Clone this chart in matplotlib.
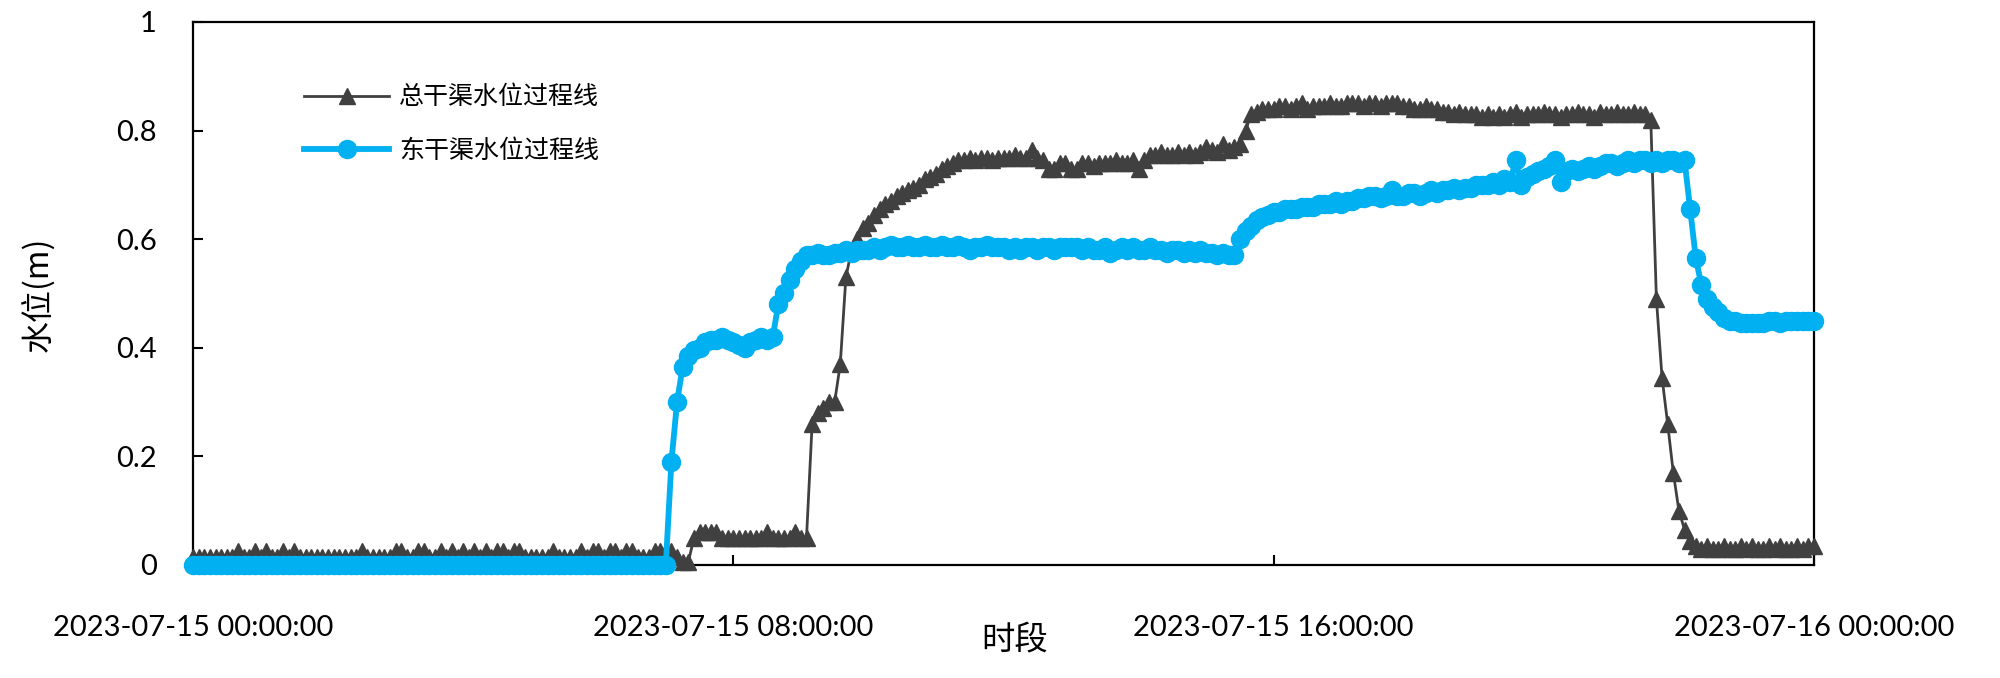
import pandas as pd
import matplotlib
matplotlib.use("Agg")
import matplotlib.pyplot as plt
import matplotlib.dates as mdates
from matplotlib.ticker import FuncFormatter

# 5-minute samples, 2023-07-15 00:00 .. 2023-07-16 00:00 (12 values per hour)
zong_level = [
    0.015, 0.015, 0.015, 0.015, 0.015, 0.015, 0.015, 0.015, 0.025, 0.015, 0.015, 0.025,  # 00h
    0.015, 0.025, 0.015, 0.015, 0.025, 0.015, 0.025, 0.015, 0.015, 0.015, 0.015, 0.015,  # 01h
    0.015, 0.015, 0.015, 0.015, 0.015, 0.015, 0.025, 0.015, 0.015, 0.015, 0.015, 0.015,  # 02h
    0.025, 0.025, 0.015, 0.015, 0.025, 0.025, 0.015, 0.015, 0.025, 0.015, 0.025, 0.015,  # 03h
    0.025, 0.015, 0.025, 0.015, 0.025, 0.015, 0.025, 0.025, 0.015, 0.025, 0.025, 0.015,  # 04h
    0.015, 0.015, 0.015, 0.015, 0.025, 0.015, 0.015, 0.015, 0.015, 0.025, 0.015, 0.025,  # 05h
    0.025, 0.015, 0.025, 0.025, 0.015, 0.025, 0.025, 0.015, 0.015, 0.015, 0.025, 0.025,  # 06h
    0.025, 0.025, 0.015, 0.005, 0.005, 0.05, 0.06, 0.06, 0.06, 0.06, 0.05, 0.05,  # 07h
    0.05, 0.05, 0.05, 0.05, 0.05, 0.05, 0.06, 0.05, 0.05, 0.05, 0.05, 0.06,  # 08h
    0.05, 0.05, 0.26, 0.28, 0.29, 0.30, 0.30, 0.37, 0.53, 0.58, 0.60, 0.62,  # 09h
    0.63, 0.645, 0.655, 0.665, 0.67, 0.68, 0.685, 0.69, 0.695, 0.70, 0.71, 0.715,  # 10h
    0.72, 0.73, 0.735, 0.74, 0.745, 0.745, 0.75, 0.745, 0.75, 0.75, 0.745, 0.75,  # 11h
    0.75, 0.75, 0.755, 0.75, 0.75, 0.765, 0.75, 0.745, 0.73, 0.73, 0.74, 0.74,  # 12h
    0.73, 0.73, 0.74, 0.74, 0.735, 0.74, 0.74, 0.74, 0.745, 0.74, 0.74, 0.745,  # 13h
    0.73, 0.745, 0.755, 0.755, 0.76, 0.755, 0.755, 0.76, 0.755, 0.76, 0.755, 0.76,  # 14h
    0.77, 0.765, 0.76, 0.775, 0.765, 0.77, 0.775, 0.80, 0.83, 0.835, 0.84, 0.84,  # 15h
    0.84, 0.845, 0.845, 0.84, 0.845, 0.85, 0.84, 0.845, 0.845, 0.845, 0.85, 0.845,  # 16h
    0.845, 0.85, 0.85, 0.85, 0.845, 0.85, 0.85, 0.845, 0.85, 0.85, 0.85, 0.845,  # 17h
    0.845, 0.84, 0.84, 0.845, 0.84, 0.84, 0.835, 0.835, 0.83, 0.835, 0.83, 0.83,  # 18h
    0.83, 0.825, 0.83, 0.825, 0.83, 0.825, 0.83, 0.835, 0.825, 0.83, 0.83, 0.83,  # 19h
    0.835, 0.83, 0.83, 0.825, 0.83, 0.83, 0.835, 0.83, 0.83, 0.825, 0.835, 0.83,  # 20h
    0.83, 0.835, 0.83, 0.83, 0.835, 0.83, 0.83, 0.82, 0.49, 0.345, 0.26, 0.17,  # 21h
    0.10, 0.065, 0.045, 0.035, 0.03, 0.035, 0.03, 0.03, 0.035, 0.03, 0.03, 0.035,  # 22h
    0.03, 0.035, 0.03, 0.03, 0.035, 0.03, 0.035, 0.03, 0.03, 0.035, 0.03, 0.035,  # 23h
    0.035,  # 24h
]

dong_level = [
    0.0, 0.0, 0.0, 0.0, 0.0, 0.0, 0.0, 0.0, 0.0, 0.0, 0.0, 0.0,  # 00h
    0.0, 0.0, 0.0, 0.0, 0.0, 0.0, 0.0, 0.0, 0.0, 0.0, 0.0, 0.0,  # 01h
    0.0, 0.0, 0.0, 0.0, 0.0, 0.0, 0.0, 0.0, 0.0, 0.0, 0.0, 0.0,  # 02h
    0.0, 0.0, 0.0, 0.0, 0.0, 0.0, 0.0, 0.0, 0.0, 0.0, 0.0, 0.0,  # 03h
    0.0, 0.0, 0.0, 0.0, 0.0, 0.0, 0.0, 0.0, 0.0, 0.0, 0.0, 0.0,  # 04h
    0.0, 0.0, 0.0, 0.0, 0.0, 0.0, 0.0, 0.0, 0.0, 0.0, 0.0, 0.0,  # 05h
    0.0, 0.0, 0.0, 0.0, 0.0, 0.0, 0.0, 0.0, 0.0, 0.0, 0.0, 0.0,  # 06h
    0.0, 0.19, 0.30, 0.365, 0.385, 0.395, 0.40, 0.41, 0.415, 0.415, 0.42, 0.415,  # 07h
    0.41, 0.405, 0.40, 0.41, 0.415, 0.42, 0.415, 0.42, 0.48, 0.50, 0.525, 0.545,  # 08h
    0.56, 0.57, 0.57, 0.575, 0.57, 0.57, 0.575, 0.575, 0.58, 0.575, 0.58, 0.58,  # 09h
    0.58, 0.585, 0.58, 0.585, 0.59, 0.585, 0.585, 0.59, 0.585, 0.585, 0.59, 0.585,  # 10h
    0.585, 0.59, 0.585, 0.585, 0.59, 0.585, 0.58, 0.585, 0.585, 0.59, 0.585, 0.585,  # 11h
    0.585, 0.58, 0.585, 0.58, 0.585, 0.585, 0.58, 0.585, 0.585, 0.58, 0.585, 0.585,  # 12h
    0.585, 0.585, 0.58, 0.585, 0.58, 0.58, 0.585, 0.575, 0.58, 0.585, 0.58, 0.585,  # 13h
    0.58, 0.58, 0.585, 0.58, 0.58, 0.575, 0.58, 0.58, 0.575, 0.58, 0.575, 0.58,  # 14h
    0.575, 0.575, 0.57, 0.575, 0.57, 0.57, 0.60, 0.615, 0.625, 0.635, 0.64, 0.645,  # 15h
    0.65, 0.65, 0.655, 0.655, 0.655, 0.66, 0.66, 0.66, 0.665, 0.665, 0.665, 0.67,  # 16h
    0.665, 0.67, 0.67, 0.675, 0.675, 0.68, 0.68, 0.675, 0.68, 0.69, 0.68, 0.68,  # 17h
    0.685, 0.685, 0.68, 0.685, 0.69, 0.685, 0.69, 0.69, 0.695, 0.69, 0.695, 0.695,  # 18h
    0.70, 0.70, 0.70, 0.705, 0.70, 0.71, 0.705, 0.745, 0.70, 0.715, 0.72, 0.725,  # 19h
    0.73, 0.735, 0.745, 0.705, 0.725, 0.73, 0.725, 0.73, 0.735, 0.73, 0.735, 0.74,  # 20h
    0.74, 0.735, 0.74, 0.745, 0.74, 0.745, 0.745, 0.74, 0.745, 0.74, 0.745, 0.745,  # 21h
    0.74, 0.745, 0.655, 0.565, 0.515, 0.49, 0.475, 0.465, 0.455, 0.45, 0.45, 0.445,  # 22h
    0.445, 0.445, 0.445, 0.445, 0.45, 0.45, 0.445, 0.45, 0.45, 0.45, 0.45, 0.45,  # 23h
    0.45,  # 24h
]

start = "2023-07-15 00:00:00"
end = "2023-07-16 00:00:00"
times = pd.date_range(start, end, freq="5min")

y_ticks = [0, 0.2, 0.4, 0.6, 0.8, 1.0]
x_tick_hours = [0, 8, 16]

TICK_FONT = "Lato"
CJK_FONT = ["Noto Sans CJK SC", "DejaVu Sans"]

fig = plt.figure(figsize=(20, 6.78), dpi=100)
ax = fig.add_axes([0.0965, 0.1667, 0.907 - 0.0965, 0.9676 - 0.1667])

line_zong, = ax.plot(times, zong_level, color="#404040", linewidth=2,
                     marker="^", markersize=12, zorder=2, clip_on=False)
line_dong, = ax.plot(times, dong_level, color="#00B0F0", linewidth=4.2,
                     marker="o", markersize=13, zorder=3, clip_on=False)

ax.set_xlim(pd.Timestamp(start), pd.Timestamp(end))
ax.set_ylim(0, 1)
ax.set_yticks(y_ticks)
ax.yaxis.set_major_formatter(FuncFormatter(lambda v, p: f"{v:g}"))
ax.xaxis.set_major_locator(mdates.HourLocator(byhour=x_tick_hours))
ax.xaxis.set_major_formatter(mdates.DateFormatter("%Y-%m-%d %H:%M:%S"))

ax.tick_params(axis="both", direction="in", length=7, width=1.5,
               labelsize=21, colors="black")
ax.tick_params(axis="x", pad=36)
ax.tick_params(axis="y", pad=26)
for lbl in ax.get_xticklabels() + ax.get_yticklabels():
    lbl.set_fontfamily(TICK_FONT)

for sp in ax.spines.values():
    sp.set_linewidth(1.6)
    sp.set_color("black")
    sp.set_zorder(1)

fig.text(0.019, 0.566, "水位(m)", rotation=90, ha="center", va="center",
         fontsize=23, family=CJK_FONT)
fig.text(0.5075, 0.0546, "时段", ha="center", va="center",
         fontsize=24, family=CJK_FONT)

ax.legend([line_zong, line_dong], ["总干渠水位过程线", "东干渠水位过程线"],
          loc="upper left", bbox_to_anchor=(0.0685, 0.885), frameon=False,
          borderpad=0, borderaxespad=0, handlelength=3.4, handletextpad=0.4,
          labelspacing=1.1, prop={"family": CJK_FONT, "size": 18})

fig.savefig("out.png", dpi=100)
plt.close(fig)
